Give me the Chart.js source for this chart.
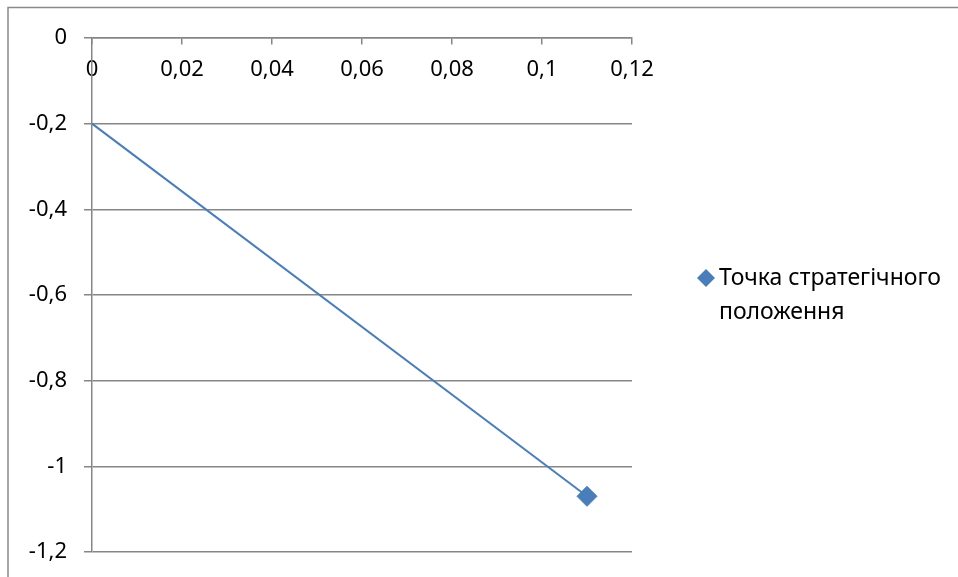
<!DOCTYPE html>
<html lang="uk">
<head>
    <meta charset="UTF-8">
    <title>Точка стратегічного положення</title>
    <script src="https://cdn.jsdelivr.net/npm/chart.js"></script>
    <style>
        html, body { margin: 0; background: #fff; overflow: hidden; }
        #chart { display: block; }
    </style>
</head>
<body>
    <canvas id="chart" width="958" height="577"></canvas>

    <script>
        // Дані графіка
        const lineX = [0, 0.11];
        const lineY = [-0.2, -1.07];
        const pointX = [0.11];
        const pointY = [-1.07];
        const legendLines = ['Точка стратегічного', 'положення'];
        const xTickLabels = ['0', '0,02', '0,04', '0,06', '0,08', '0,1', '0,12'];
        const yTickLabels = ['-1,2', '-1', '-0,8', '-0,6', '-0,4', '-0,2', '0'];

        const blue = '#4A7EBB';
        const gray = '#868686';
        const font = { family: 'Noto Sans', size: 22 };

        // Рамка області діаграми (ліва і верхня сторони)
        const outerFrame = {
            id: 'outerFrame',
            beforeDraw(chart) {
                const ctx = chart.ctx;
                ctx.save();
                ctx.strokeStyle = '#8a8a8a';
                ctx.lineWidth = 1.5;
                ctx.beginPath();
                ctx.moveTo(8, chart.height);
                ctx.lineTo(8, 7.5);
                ctx.lineTo(chart.width, 7.5);
                ctx.stroke();
                ctx.restore();
            }
        };

        // Легенда праворуч від області побудови
        const sideLegend = {
            id: 'sideLegend',
            afterDraw(chart) {
                const ctx = chart.ctx;
                const area = chart.chartArea;
                const x = area.right + 74;
                const y = area.top + 240;
                ctx.save();
                ctx.fillStyle = blue;
                ctx.beginPath();
                ctx.moveTo(x, y - 9);
                ctx.lineTo(x + 9, y);
                ctx.lineTo(x, y + 9);
                ctx.lineTo(x - 9, y);
                ctx.closePath();
                ctx.fill();
                ctx.fillStyle = '#000';
                ctx.font = '23px "' + font.family + '"';
                ctx.textBaseline = 'middle';
                legendLines.forEach((t, i) => ctx.fillText(t, x + 13, y + i * 34));
                ctx.restore();
            }
        };

        new Chart(document.getElementById('chart'), {
            type: 'scatter',
            data: {
                datasets: [{
                    label: 'line',
                    data: lineX.map((x, i) => ({ x: x, y: lineY[i] })),
                    showLine: true,
                    borderColor: blue,
                    borderWidth: 2,
                    pointRadius: 0
                }, {
                    label: legendLines.join(' '),
                    data: pointX.map((x, i) => ({ x: x, y: pointY[i] })),
                    pointStyle: 'rectRot',
                    pointRadius: 10,
                    backgroundColor: blue,
                    borderColor: blue
                }]
            },
            options: {
                responsive: false,
                animation: false,
                layout: { padding: { left: 0, top: 38, right: 326, bottom: 25 } },
                plugins: {
                    legend: { display: false },
                    tooltip: { enabled: false }
                },
                scales: {
                    x: {
                        type: 'linear',
                        position: { y: 0 },
                        min: 0,
                        max: 0.12,
                        ticks: {
                            stepSize: 0.02,
                            color: '#000',
                            font: font,
                            padding: 13,
                            maxRotation: 0,
                            callback: (v, i) => xTickLabels[i]
                        },
                        grid: { drawOnChartArea: false, drawTicks: true, tickLength: 6, color: gray, lineWidth: 1.5 },
                        border: { color: gray, width: 1.5 },
                        afterFit: s => { s.height = 0; }
                    },
                    y: {
                        min: -1.2,
                        max: 0,
                        ticks: {
                            stepSize: 0.2,
                            color: '#000',
                            font: font,
                            padding: 17,
                            callback: (v, i) => yTickLabels[i]
                        },
                        grid: { color: gray, lineWidth: 1.5, tickLength: 8 },
                        border: { color: gray, width: 1.5 },
                        afterFit: s => {
                            s.width = 92;
                            s.paddingTop = 0;
                            s.paddingBottom = 0;
                        }
                    }
                }
            },
            plugins: [outerFrame, sideLegend]
        });
    </script>
</body>
</html>
